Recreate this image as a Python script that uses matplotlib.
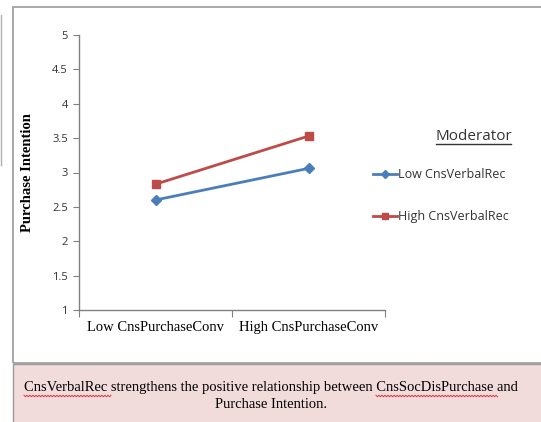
import numpy as np
import matplotlib.pyplot as plt
from matplotlib.patches import Rectangle
from matplotlib.lines import Line2D

# data
categories = ['Low CnsPurchaseConv', 'High CnsPurchaseConv']
low_rec = [2.60, 3.06]
high_rec = [2.83, 3.53]
series_names = ['Low CnsVerbalRec', 'High CnsVerbalRec']
y_ticks = [1, 1.5, 2, 2.5, 3, 3.5, 4, 4.5, 5]
y_tick_labels = ['1', '1.5', '2', '2.5', '3', '3.5', '4', '4.5', '5']

blue = '#4a7ebb'
red = '#be4b48'
serif = 'Liberation Serif'
sans = 'Open Sans'

W, H = 541, 422
fig = plt.figure(figsize=(W / 100, H / 100), dpi=100)
fig.patch.set_facecolor('white')

def fx(px):
    return px / W

def fy(py):
    return 1 - py / H

# chart frame and caption box
fig.patches.append(Rectangle((fx(13), fy(363)), fx(560) - fx(13), fy(7) - fy(363),
                             transform=fig.transFigure, fill=False, edgecolor='#9a9a9a', lw=1.2))
fig.patches.append(Rectangle((fx(13), fy(425)), fx(560) - fx(13), fy(364) - fy(425),
                             transform=fig.transFigure, facecolor='#f2dcdb', edgecolor='#9a9a9a', lw=1.0))
fig.add_artist(Line2D([fx(1), fx(1)], [fy(15), fy(165)], color='#b0b0b0', lw=1.0))

ax = fig.add_axes([fx(79), fy(310), fx(385) - fx(79), fy(35) - fy(310)])
x = [0.5, 1.5]
ax.plot(x, low_rec, color=blue, lw=2, marker='D', ms=5, label=series_names[0])
ax.plot(x, high_rec, color=red, lw=2, marker='s', ms=6, label=series_names[1])

ax.set_xlim(0, 2)
ax.set_ylim(1, 5)
ax.set_yticks(y_ticks)
ax.set_yticklabels(y_tick_labels, family=sans, fontsize=8, color='#333333')
ax.set_xticks([0, 1, 2])
ax.set_xticklabels([])
ax.set_xticks(x, minor=True)
ax.set_xticklabels(categories, minor=True, family=serif, fontsize=10.5)
ax.tick_params(axis='x', which='minor', length=0, pad=8)
ax.tick_params(axis='x', which='major', length=5, direction='out', color='#808080')
ax.tick_params(axis='y', length=4, direction='out', color='#808080', pad=4)
for s in ['top', 'right']:
    ax.spines[s].set_visible(False)
for s in ['left', 'bottom']:
    ax.spines[s].set_color('#808080')
    ax.spines[s].set_linewidth(1.0)

ax.set_ylabel('Purchase Intention', family=serif, fontweight='bold', fontsize=10.5, labelpad=13)

# legend
fig.text(fx(474), fy(136), 'Moderator', family=sans, fontsize=11, ha='center', va='center',
         color='#333333')
fig.add_artist(Line2D([fx(436), fx(511)], [fy(144), fy(144)], color='#333333', lw=1.0))
handles, labels = ax.get_legend_handles_labels()
leg = fig.legend(handles, labels, loc='upper left', bbox_to_anchor=(fx(362), fy(157)),
                 frameon=False, prop={'family': sans, 'size': 9}, handlelength=1.9,
                 handletextpad=0.1, labelspacing=2.3, markerscale=0.8)
for t in leg.get_texts():
    t.set_color('#333333')

# caption
fig.text(fx(271), fy(388), 'CnsVerbalRec strengthens the positive relationship between CnsSocDisPurchase and',
         family=serif, fontsize=10.5, ha='center', va='center')
fig.text(fx(271), fy(405), 'Purchase Intention.', family=serif, fontsize=10.5, ha='center', va='center')

# spell-check squiggles under the two coined words
for x0, x1 in [(24, 111), (376, 497)]:
    xs = np.arange(x0, x1 + 1, 1.5)
    ys = 396 + np.where((np.arange(len(xs)) % 2) == 0, -0.8, 0.8)
    fig.add_artist(Line2D(fx(xs), fy(ys), color='#d04040', lw=0.7))

fig.savefig('out.png', dpi=100)
